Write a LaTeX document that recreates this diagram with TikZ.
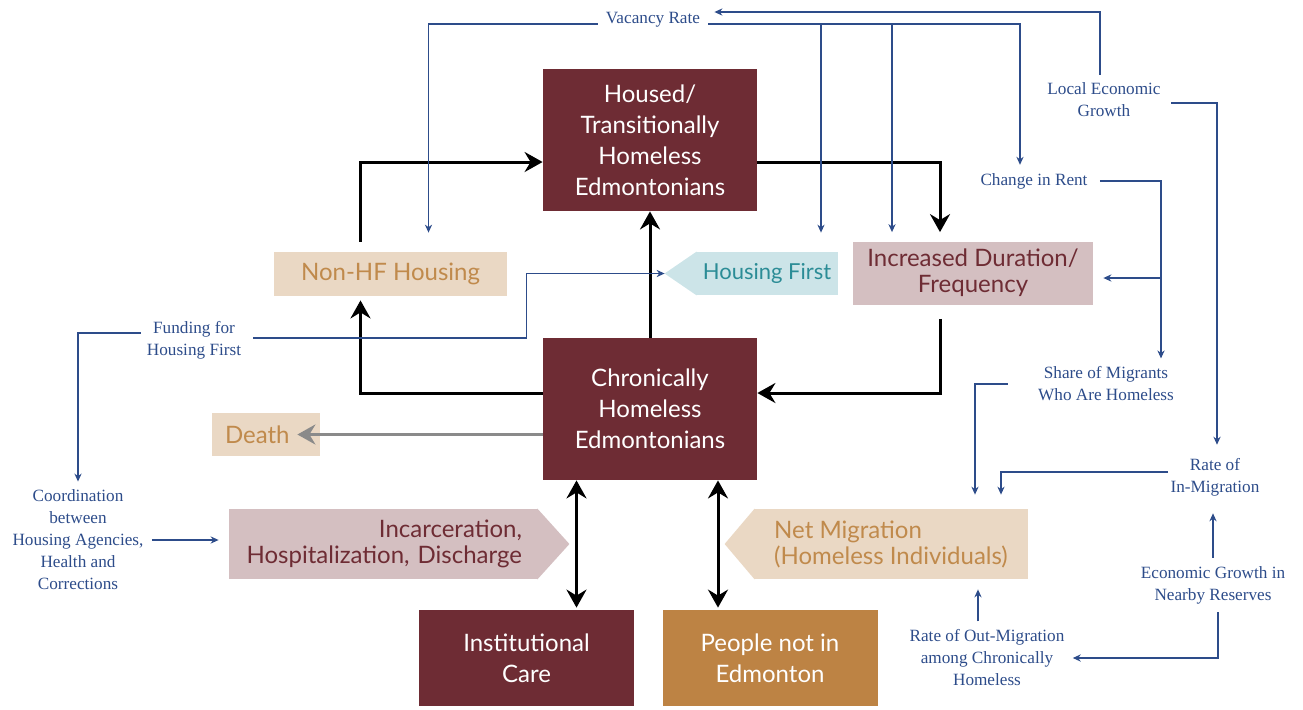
\documentclass[tikz,border=0pt]{standalone}
\usepackage{fontspec}
\setmainfont{Liberation Serif}
\newfontfamily\boxfont{Lato}
\usetikzlibrary{arrows.meta,calc}
\definecolor{maroon}{HTML}{6E2C34}
\definecolor{ochre}{HTML}{BD8344}
\definecolor{tanbg}{HTML}{EAD8C4}
\definecolor{tantext}{HTML}{C08A4C}
\definecolor{pinkbg}{HTML}{D4BFC1}
\definecolor{hfbg}{HTML}{CCE4E8}
\definecolor{hftext}{HTML}{2B8C96}
\definecolor{navy}{HTML}{2D4C8A}
\definecolor{arrowgray}{HTML}{8A8A8A}
\def\bigtip{Stealth[length=9pt,width=10pt,inset=3pt]}

\begin{document}
\begin{tikzpicture}[x=0.5pt,y=-0.5pt,
		stock/.style={fill=maroon, text=white, font=\boxfont\fontsize{12}{15.5}\selectfont, align=center, minimum width=107pt, minimum height=71pt, inner sep=0pt},
		sink/.style={stock, minimum width=107.5pt, minimum height=48pt},
		aux/.style={font=\boxfont\fontsize{12}{13}\selectfont, inner sep=0pt, align=center},
		lbl/.style={text=navy, font=\fontsize{8.6}{11}\selectfont, align=center, inner sep=4pt},
		infl/.style={draw=navy, line width=0.6pt, -{Stealth[length=4pt,width=3.6pt]}},
		flow/.style={line width=1.5pt, -{\bigtip}},
		twoway/.style={line width=1.5pt, {\bigtip}-{\bigtip}},
		gflow/.style={draw=arrowgray, line width=1.5pt, -{\bigtip}}]
			%%%%% START %%%%%
			\useasboundingbox (0,0) rectangle (1303,709);
			
			% stocks
			\node[stock] (housed) at (650,140) {Housed/\\Transitionally\\Homeless\\Edmontonians};
			\node[stock] (chronic) at (650,409) {Chronically\\Homeless\\Edmontonians};
			\node[sink] (inst) at (526.5,658) {Institutional\\Care};
			\node[sink, fill=ochre] (people) at (770,658) {People not in\\Edmonton};
			
			% flows
			\node[aux, fill=tanbg, text=tantext, minimum width=116.5pt, minimum height=22pt] (nonhf) at (390.5,274) {Non-HF Housing};
			\node[aux, fill=tanbg, text=tantext, text width=41pt, inner xsep=6.5pt, minimum height=21.5pt, align=left] (death) at (266,434.5) {Death};
			\node[aux, fill=pinkbg, text=maroon, minimum width=120pt, minimum height=31.5pt] (dur) at (973,273) {Increased Duration/\\Frequency};
			\node[aux, fill=hfbg, text=hftext, font=\boxfont\fontsize{11}{13}\selectfont, minimum width=71pt, minimum height=21.5pt] (hf) at (767,273.5) {Housing First};
			\node[aux, fill=pinkbg, text=maroon, text width=138.5pt, inner xsep=8pt, minimum height=35pt, align=right] (inc) at (383.5,544) {Incarceration,\\Hospitalization, Discharge};
			\node[aux, fill=tanbg, text=tantext, minimum width=137pt, minimum height=35pt, align=left] (nm) at (891,544) {Net Migration\\(Homeless Individuals)};
			
			\coordinate (hftip) at ($(hf.west)+(-31,0)$);
			\fill[hfbg] ($(hf.north west)+(1,0)$) -- (hftip) -- ($(hf.south west)+(1,0)$) -- cycle;
			\fill[pinkbg] ($(inc.north east)+(-1,0)$) -- ($(inc.east)+(31,0)$) -- ($(inc.south east)+(-1,0)$) -- cycle;
			\fill[tanbg] ($(nm.north west)+(1,0)$) -- ($(nm.west)+(-29,0)$) -- ($(nm.south west)+(1,0)$) -- cycle;
			
			% factors
			\node[lbl] (vac) at (653,20) {Vacancy Rate};
			\node[lbl] (leg) at (1104,100) {Local Economic\\Growth};
			\node[lbl] (rent) at (1034,181) {Change in Rent};
			\node[lbl] (fund) at (194,340) {Funding for\\Housing First};
			\node[lbl] (share) at (1106,384) {Share of Migrants\\Who Are Homeless};
			\node[lbl] (inmig) at (1215,477) {Rate of\\In-Migration};
			\node[lbl] (coord) at (78,540) {Coordination\\between\\Housing Agencies,\\Health and\\Corrections};
			\node[lbl] (ecores) at (1213,585) {Economic Growth in\\Nearby Reserves};
			\node[lbl] (outmig) at (987,658) {Rate of Out-Migration\\among Chronically\\Homeless};
			
			% black flows
			\draw[flow] ($(nonhf.north)+(-30,-10)$) |- ($(housed.west)+(0,22)$);
			\draw[flow] ($(housed.east)+(0,22)$) -| ($(dur.north)+(-33,-9)$);
			\draw[flow] (chronic.north) -- (housed.south);
			\draw[flow] ($(chronic.west)+(0,-16)$) -| ($(nonhf.south)+(-30,4)$);
			\draw[flow] ($(dur.south)+(-33,14)$) |- ($(chronic.east)+(0,-16)$);
			\draw[gflow] (chronic.west |- death.east) -- ($(death.east)+(-23,0)$);
			
			\coordinate (icx) at ($(inst.north)+(50,-2)$);
			\coordinate (pcx) at ($(people.north)+(-52,-2)$);
			\draw[twoway] (icx |- chronic.south) -- (icx);
			\draw[twoway] (pcx |- chronic.south) -- (pcx);
			
			% blue influences
			\coordinate (vacbus) at ($(vac.east)+(0,4)$);
			\coordinate (br1) at ($(hf.north)+(54,-19)$);
			\coordinate (br2) at ($(dur.north)+(-81,-9)$);
			\draw[infl] ($(leg.north)+(-4,0)$) |- ($(vac.east)+(6,-8)$);
			\draw[infl] (vacbus) -| ($(rent.north)+(-14,0)$);
			\draw[infl] (vacbus -| br1) -- (br1);
			\draw[infl] (vacbus -| br2) -- (br2);
			\draw[infl] ($(vac.west)+(0,4)$) -| ($(nonhf.north)+(38,-19)$);
			
			\coordinate (rentx) at ($(share.north)+(55,0)$);
			\draw[infl] ($(rent.east)+(4,0)$) -| (rentx);
			\draw[infl] (rentx |- dur.east) ++(0,5) -- ($(dur.east)+(10,5)$);
			\draw[infl] ($(leg.east)+(2,3)$) -| ($(inmig.north)+(2,-5)$);
			
			\draw[infl] ($(fund.east)+(4,-2)$) -| ($(hftip)+(-138,0)$) -- (hftip);
			\draw[infl] ($(fund.west)+(2,-7)$) -| (coord.north);
			\draw[infl, shorten >=5pt] (coord.east) -- (coord.east -| inc.west);
			
			\draw[infl] ($(share.west)+(-22,0)$) -| ($(nm.north)+(84,-14)$);
			\draw[infl] ($(inmig.west)+(6,-5)$) -| ($(nm.north)+(110,-14)$);
			\draw[infl, shorten >=4.5pt] (ecores.north) -- (ecores.north |- inmig.south);
			\draw[infl] ($(ecores.south)+(5,0)$) |- (outmig.east);
			\coordinate (omx) at ($(outmig.north)+(-9,0)$);
			\draw[infl, shorten >=5pt] (omx) -- (omx |- nm.south);
			%%%%% END %%%%%
		\end{tikzpicture}
\end{document}
